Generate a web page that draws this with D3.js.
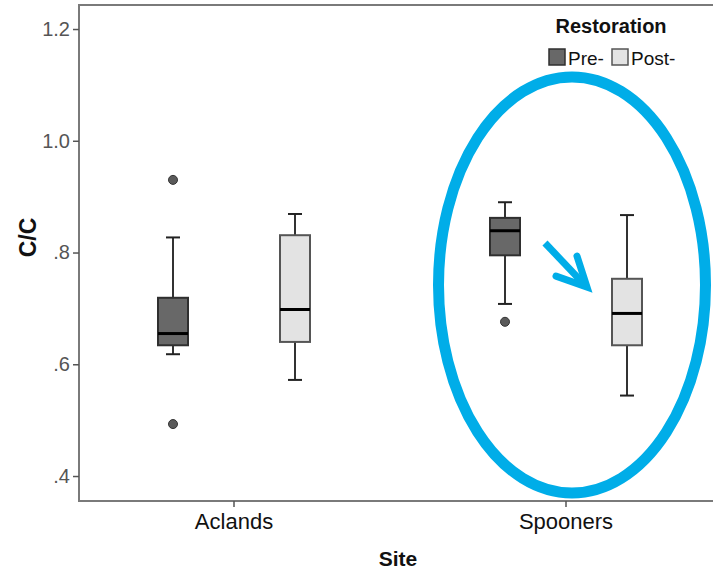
<!DOCTYPE html>
<html>
<head>
<meta charset="utf-8">
<script src="https://cdn.jsdelivr.net/npm/d3@7"></script>
<style>
  html, body { margin: 0; padding: 0; background: #fff; }
  svg { display: block; font-family: Arial, "Liberation Sans", sans-serif; }
</style>
</head>
<body>
<svg id="chart" width="713" height="572"></svg>
<script>
// Sites on the x axis and restoration periods within each site
const sites = ["Aclands", "Spooners"];
const periods = ["Pre-", "Post-"];

// Box-plot summaries per site, one array per period: [site, lowWhisker, q1, median, q3, highWhisker]
const preStats = [
  ["Aclands", 0.618, 0.634, 0.655, 0.719, 0.827],
  ["Spooners", 0.708, 0.795, 0.839, 0.862, 0.890]
];
const postStats = [
  ["Aclands", 0.572, 0.640, 0.698, 0.831, 0.869],
  ["Spooners", 0.544, 0.634, 0.691, 0.753, 0.867]
];

// Outlying observations: [site, period, value]
const outliers = [
  ["Aclands", "Pre-", 0.930],
  ["Aclands", "Pre-", 0.493],
  ["Spooners", "Pre-", 0.676]
];

const yTicks = [0.4, 0.6, 0.8, 1.0, 1.2];
const yTickLabels = [".4", ".6", ".8", "1.0", "1.2"];

const fills = { "Pre-": "#686868", "Post-": "#e3e3e3" };
const edges = { "Pre-": "#2f2f2f", "Post-": "#555555" };

const svg = d3.select("#chart");

const plot = { left: 79, top: 5, right: 716, bottom: 501 };

const x = d3.scaleBand().domain(sites).range([68, 732]);
const xInner = d3.scalePoint().domain(periods).range([-61, 61]);
const y = d3.scaleLinear().domain([0.3553, 1.243]).range([plot.bottom, plot.top]);

const boxW = 30, capW = 14;

// Plot frame
svg.append("rect")
  .attr("x", plot.left).attr("y", plot.top)
  .attr("width", plot.right - plot.left).attr("height", plot.bottom - plot.top)
  .attr("fill", "none").attr("stroke", "#7a7a7a").attr("stroke-width", 2);

// Y axis
const yAxis = d3.axisLeft(y)
  .tickValues(yTicks)
  .tickFormat((d, i) => yTickLabels[i])
  .tickSize(6).tickSizeOuter(0).tickPadding(3);
const gy = svg.append("g").attr("transform", `translate(${plot.left},0)`).call(yAxis);
gy.select(".domain").remove();
gy.selectAll(".tick line").attr("stroke", "#555").attr("stroke-width", 1.5);
gy.selectAll(".tick text").attr("fill", "#555").attr("font-size", 20)
  .attr("font-family", "Arial, 'Liberation Sans', sans-serif");

// X axis
const xAxis = d3.axisBottom(x).tickSize(6).tickSizeOuter(0).tickPadding(6);
const gx = svg.append("g").attr("transform", `translate(0,${plot.bottom})`).call(xAxis);
gx.select(".domain").remove();
gx.selectAll(".tick line").attr("stroke", "#555").attr("stroke-width", 1.5);
gx.selectAll(".tick text").attr("fill", "#111").attr("font-size", 22)
  .attr("font-family", "Arial, 'Liberation Sans', sans-serif");

// Axis titles
svg.append("text")
  .attr("x", 398).attr("y", 566)
  .attr("text-anchor", "middle")
  .attr("font-weight", "bold").attr("font-size", 21).attr("fill", "#111")
  .text("Site");

svg.append("text")
  .attr("transform", `translate(36, ${y(0.8) - 15}) rotate(-90)`)
  .attr("text-anchor", "middle")
  .attr("font-weight", "bold").attr("font-size", 23).attr("fill", "#111")
  .text("C/C");

// Boxes
const boxData = [
  ...preStats.map(r => ({ period: "Pre-", site: r[0], lo: r[1], q1: r[2], med: r[3], q3: r[4], hi: r[5] })),
  ...postStats.map(r => ({ period: "Post-", site: r[0], lo: r[1], q1: r[2], med: r[3], q3: r[4], hi: r[5] }))
];

const boxes = svg.append("g").selectAll("g").data(boxData).join("g")
  .attr("transform", d => `translate(${x(d.site) + x.bandwidth() / 2 + xInner(d.period)},0)`);

// whisker stems
boxes.append("line").attr("x1", 0).attr("x2", 0)
  .attr("y1", d => y(d.hi)).attr("y2", d => y(d.q3))
  .attr("stroke", "#333").attr("stroke-width", 2);
boxes.append("line").attr("x1", 0).attr("x2", 0)
  .attr("y1", d => y(d.q1)).attr("y2", d => y(d.lo))
  .attr("stroke", "#333").attr("stroke-width", 2);
// whisker caps
boxes.append("line").attr("x1", -capW / 2).attr("x2", capW / 2)
  .attr("y1", d => y(d.hi)).attr("y2", d => y(d.hi))
  .attr("stroke", "#222").attr("stroke-width", 2);
boxes.append("line").attr("x1", -capW / 2).attr("x2", capW / 2)
  .attr("y1", d => y(d.lo)).attr("y2", d => y(d.lo))
  .attr("stroke", "#222").attr("stroke-width", 2);
// IQR box
boxes.append("rect")
  .attr("x", -boxW / 2).attr("width", boxW)
  .attr("y", d => y(d.q3)).attr("height", d => y(d.q1) - y(d.q3))
  .attr("fill", d => fills[d.period]).attr("stroke", d => edges[d.period]).attr("stroke-width", 2);
// median
boxes.append("line").attr("x1", -boxW / 2).attr("x2", boxW / 2)
  .attr("y1", d => y(d.med)).attr("y2", d => y(d.med))
  .attr("stroke", "#000").attr("stroke-width", 3);

// Outliers
svg.append("g").selectAll("circle").data(outliers).join("circle")
  .attr("cx", d => x(d[0]) + x.bandwidth() / 2 + xInner(d[1]))
  .attr("cy", d => y(d[2]))
  .attr("r", 4.5)
  .attr("fill", "#5a5a5a").attr("stroke", "#333").attr("stroke-width", 1);

// Legend
const legend = svg.append("g");
legend.append("text")
  .attr("x", 611).attr("y", 33)
  .attr("text-anchor", "middle")
  .attr("font-weight", "bold").attr("font-size", 20).attr("fill", "#111")
  .text("Restoration");
const legendX = { "Pre-": 549, "Post-": 612 };
periods.forEach(p => {
  legend.append("rect")
    .attr("x", legendX[p]).attr("y", 49).attr("width", 16).attr("height", 16)
    .attr("fill", fills[p]).attr("stroke", edges[p]).attr("stroke-width", 1.5);
  legend.append("text")
    .attr("x", legendX[p] + 19).attr("y", 65)
    .attr("font-size", 19).attr("fill", "#111")
    .text(p);
});

// Highlight around the Spooners site and arrow showing the drop after restoration
const cxS = x("Spooners") + x.bandwidth() / 2;
svg.append("ellipse")
  .attr("cx", cxS + 6).attr("cy", y(0.742))
  .attr("rx", 133.5).attr("ry", 208)
  .attr("fill", "none").attr("stroke", "#00ade8").attr("stroke-width", 11);

const ax0 = cxS - 21, ay0 = y(0.817);
const ax1 = cxS + 21, ay1 = y(0.738);
svg.append("line")
  .attr("x1", ax0).attr("y1", ay0).attr("x2", ax1 - 3).attr("y2", ay1 - 3)
  .attr("stroke", "#00ade8").attr("stroke-width", 7).attr("stroke-linecap", "butt");
svg.append("path")
  .attr("d", `M${ax1 - 31},${ay1 - 11} L${ax1},${ay1} L${ax1 - 10},${ay1 - 31}`)
  .attr("fill", "none").attr("stroke", "#00ade8").attr("stroke-width", 7)
  .attr("stroke-linecap", "round").attr("stroke-linejoin", "miter");
</script>
</body>
</html>
